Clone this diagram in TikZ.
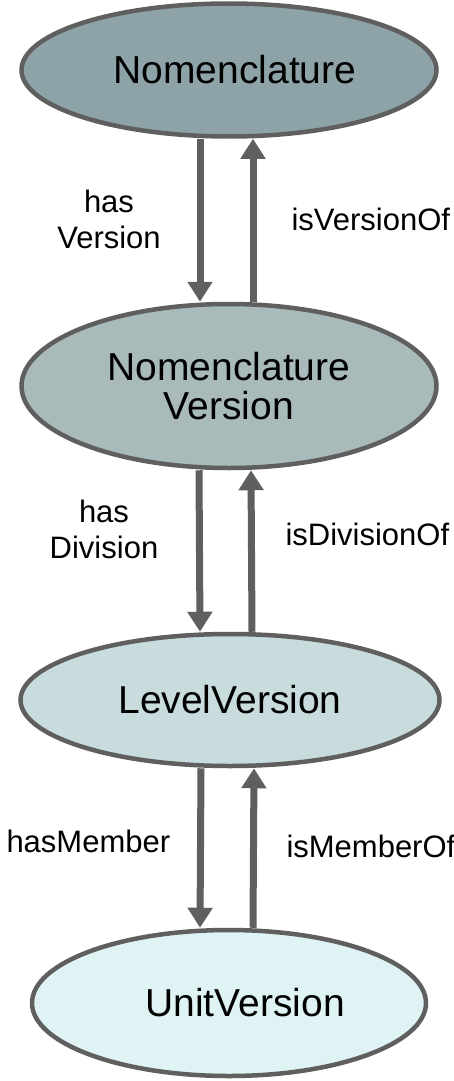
\documentclass[tikz,border=0pt]{standalone}
\usepackage{fontspec}
\setmainfont{Liberation Sans}
\usetikzlibrary{arrows.meta,shapes.geometric}

\definecolor{nomfill}{HTML}{8DA3A8}
\definecolor{nvfill}{HTML}{A9BABA}
\definecolor{lvfill}{HTML}{C8DCDE}
\definecolor{uvfill}{HTML}{DFF3F4}
\definecolor{edgegray}{HTML}{5F5F5F}

\begin{document}
\begin{tikzpicture}[x=1pt,y=-1pt,->,>={Triangle[length=20pt,width=24pt]},
                    line width=7pt]
  \tikzset{class/.style={ellipse,draw=edgegray,line width=4.5pt,inner sep=0pt,
                         align=center,font=\fontsize{39}{39}\selectfont},
           rel/.style={inner sep=0pt,align=center,font=\fontsize{31}{36}\selectfont},
           every edge/.style={draw=edgegray,line width=7pt}}
  \useasboundingbox (0,0) rectangle (454,1081);

  \node[class,fill=nomfill,minimum width=415pt,minimum height=133pt] (N) at (229,70) {\hspace*{12pt}Nomenclature};
  \node[class,fill=nvfill,minimum width=415pt,minimum height=164pt] (NV) at (229,386) {Nomenclature\\Version};
  \node[class,fill=lvfill,minimum width=419pt,minimum height=132pt] (LV) at (230,700) {LevelVersion};
  \node[class,fill=uvfill,minimum width=394pt,minimum height=146pt] (UV) at (229,1003) {\hspace*{32pt}UnitVersion};

  \path ([xshift=-29pt]N.south) edge ([xshift=-29pt]NV.north)
        ([xshift=24pt]NV.north) edge ([xshift=24pt]N.south)
        ([xshift=-30pt]NV.south) edge ([xshift=-30pt]LV.north)
        ([xshift=22pt]LV.north) edge ([xshift=22pt]NV.south)
        ([xshift=-29pt]LV.south) edge ([xshift=-29pt]UV.north)
        ([xshift=24pt]UV.north) edge ([xshift=24pt]LV.south);

  \node[rel] (hv) at (109,219) {has\\Version};
  \node[rel,anchor=base west] (ivo) at (288,230) {isVersionOf};
  \node[rel] (hd) at (104,529) {has\\Division};
  \node[rel,anchor=base west] (ido) at (282,545) {isDivisionOf};
  \node[rel,anchor=base west] (hm) at (3,852) {hasMember};
  \node[rel,anchor=base west] (imo) at (283,857) {isMemberOf};
\end{tikzpicture}
\end{document}
